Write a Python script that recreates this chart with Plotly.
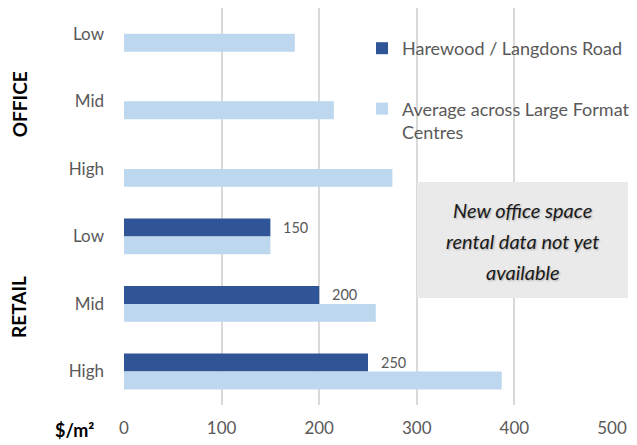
import plotly.graph_objects as go

# ---- data ----
sectors = ["Office", "Office", "Office", "Retail", "Retail", "Retail"]
levels = ["Low", "Mid", "High", "Low", "Mid", "High"]
harewood = [None, None, None, 150, 200, 250]
average = [175, 215, 275, 150, 258, 387]
series_names = ["Harewood / Langdons Road", "Average across Large Format<br>Centres"]
x_ticks = [0, 100, 200, 300, 400, 500]
note_lines = ["New office space", "rental data not yet", "available"]

cats = [f"{s} {l}" for s, l in zip(sectors, levels)]

DARK = "#2F5597"
LIGHT = "#BDD7EE"
FONT = "Lato"
GRAY = "#595959"

fig = go.Figure()
fig.add_trace(go.Bar(y=cats, x=harewood, orientation="h", name=series_names[0],
                     marker=dict(color=DARK, line_width=0), legendgroup="a"))
fig.add_trace(go.Bar(y=cats, x=average, orientation="h", name=series_names[1],
                     marker=dict(color=LIGHT, line_width=0), legendgroup="b"))

# page body has an 8px default margin -> size the figure to fill the rest
OFF = 8
W, H = 637 - OFF, 445 - OFF
X0, X1 = 124, 612          # screen px of x=0 and x=500
Y0, Y1 = OFF, 405          # screen px of plot top / bottom
L, R = X0 - OFF, (637) - X1
T, B = Y0 - OFF, 445 - Y1
pw, ph = X1 - X0, Y1 - Y0

def px_x(p):
    return (p - X0) / pw

def px_y(p):
    return (Y1 - p) / ph

# category spacing chosen so that centres sit where the reference has them
cat_step = (371.5 - 33.8) / 5
y_top = -(33.8 - Y0) / cat_step
y_bot = (Y1 - 33.8) / cat_step

annotations = []
# data labels for the Harewood series
for c, v in zip(cats, harewood):
    if v is None:
        continue
    annotations.append(dict(x=v, y=c, xref="x", yref="y", text=str(v), showarrow=False,
                            xanchor="left", yanchor="middle", xshift=11, yshift=9,
                            font=dict(family=FONT, size=14.5, color=GRAY)))
# sector labels
for label, c in [("OFFICE", "Office Mid"), ("RETAIL", "Retail Mid")]:
    annotations.append(dict(x=px_x(19), y=c, xref="paper", yref="y", text=f"<b>{label}</b>",
                            textangle=-90, showarrow=False, xanchor="center", yanchor="middle",
                            yshift=-3, borderpad=0,
                            font=dict(family=FONT, size=19, color="#000000")))
# unit label
annotations.append(dict(x=px_x(74), y=px_y(430), xref="paper", yref="paper", text="<b>$/m²</b>",
                        showarrow=False, xanchor="center", yanchor="middle",
                        font=dict(family=FONT, size=18, color="#000000")))
# note text
for i, line in enumerate(note_lines):
    annotations.append(dict(x=px_x(522.5), y=px_y(210 + 31 * i), xref="paper", yref="paper",
                            text=f"<i>{line}</i>", showarrow=False, xanchor="center",
                            yanchor="middle",
                            font=dict(family=FONT, size=20, color="#1a1a1a",
                                      shadow="1px 1px 2px rgba(0,0,0,0.25)")))

fig.update_layout(
    width=W, height=H,
    margin=dict(l=L, r=R, t=T, b=B, pad=0, autoexpand=False),
    paper_bgcolor="white", plot_bgcolor="white",
    barmode="group", bargap=0.47, bargroupgap=0,
    font=dict(family=FONT, size=17, color=GRAY),
    xaxis=dict(range=[0, 500], tickvals=x_ticks, showgrid=True, gridcolor="#D9D9D9",
               gridwidth=2, zeroline=False, showline=False, ticks="outside", ticklen=8,
               tickcolor="rgba(0,0,0,0)", tickfont=dict(family=FONT, size=17, color=GRAY),
               automargin=False),
    yaxis=dict(range=[y_bot, y_top], tickvals=cats, ticktext=levels, showgrid=False,
               zeroline=False, showline=False, ticks="", ticklabelstandoff=19,
               tickfont=dict(family=FONT, size=17, color=GRAY), automargin=False),
    legend=dict(xref="paper", yref="paper", x=px_x(362), y=px_y(30),
                xanchor="left", yanchor="top", valign="top", tracegroupgap=34,
                font=dict(family=FONT, size=18, color=GRAY), bgcolor="rgba(0,0,0,0)",
                traceorder="grouped"),
    shapes=[dict(type="rect", xref="paper", yref="paper", x0=px_x(417), x1=px_x(628),
                 y0=px_y(298), y1=px_y(182), fillcolor="#EAEAEA", line_width=0,
                 layer="above")],
    annotations=annotations,
)

fig.write_html("out.html")
